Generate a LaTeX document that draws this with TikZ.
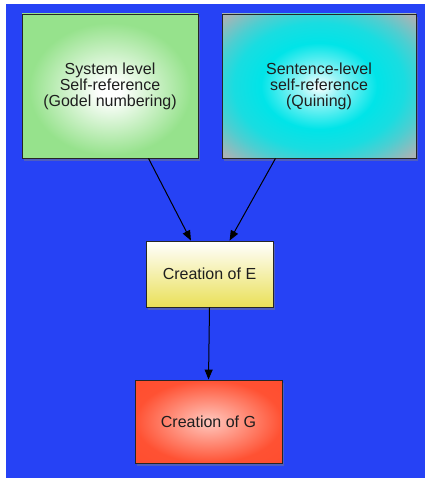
\documentclass[tikz,border=0pt]{standalone}
\usepackage{fontspec}
\setmainfont{Liberation Sans}
\usetikzlibrary{arrows.meta,shadows}
\definecolor{bgblue}{RGB}{38,66,245}
\definecolor{sysgreen}{RGB}{150,226,140}
\definecolor{quinecyan}{RGB}{0,228,232}
\definecolor{quinegray}{RGB}{168,180,182}
\definecolor{eyellow}{RGB}{234,224,88}
\definecolor{gred}{RGB}{255,72,40}
\definecolor{textgray}{RGB}{30,30,30}
% shadings: 25bp is the edge of the box
\pgfdeclareradialshading{sysglow}{\pgfpoint{0bp}{-2bp}}{%
  color(0bp)=(white); color(3bp)=(white); color(23bp)=(sysgreen);
  color(50bp)=(sysgreen)}
\pgfdeclareradialshading{quineglow}{\pgfpoint{0bp}{0bp}}{%
  color(0bp)=(white); color(5bp)=(quinecyan!40!white); color(15bp)=(quinecyan);
  color(22bp)=(quinecyan!85!quinegray); color(27bp)=(quinecyan!55!quinegray);
  color(34bp)=(quinegray); color(50bp)=(quinegray)}
\pgfdeclareradialshading{gglow}{\pgfpoint{0bp}{0bp}}{%
  color(0bp)=(gred!30!white); color(25bp)=(gred!95!white);
  color(50bp)=(gred)}
\tikzset{
  box/.style={draw=black!85, line width=0.9pt, align=center, inner sep=0pt,
    text=textgray, font=\fontsize{16}{16}\selectfont,
    drop shadow={shadow xshift=2pt, shadow yshift=-3pt, opacity=0.45}},
  link/.style={line width=1pt, -{Triangle[length=10pt,width=8pt]}}
}
\begin{document}
\begin{tikzpicture}[x=1pt,y=-1pt]
\useasboundingbox (0,0) rectangle (425,478);
\fill[bgblue] (6,4) rectangle (425,478);
%
\node (sys)   at (110,86)    [box, minimum width=176pt, minimum height=144pt,
  shading=sysglow]
  {System level\\Self-reference\\(Godel numbering)};
\node (quine) at (319,86)    [box, minimum width=194pt, minimum height=144pt,
  shading=quineglow]
  {Sentence-level\\self-reference\\(Quining)};
%
\node (crE)   at (209.5,274) [box, minimum width=127pt, minimum height=66pt,
  top color=white, bottom color=eyellow] {Creation of E};
%
\node (crG)   at (208.5,421.5) [box, minimum width=147pt, minimum height=83pt,
  shading=gglow] {Creation of G};
%
\draw[link] (sys.-62) -- (crE.119);
\draw[link] (quine.-121) -- (crE.59);
\draw[link] (crE.south) -- (crG.north);
\end{tikzpicture}
\end{document}
